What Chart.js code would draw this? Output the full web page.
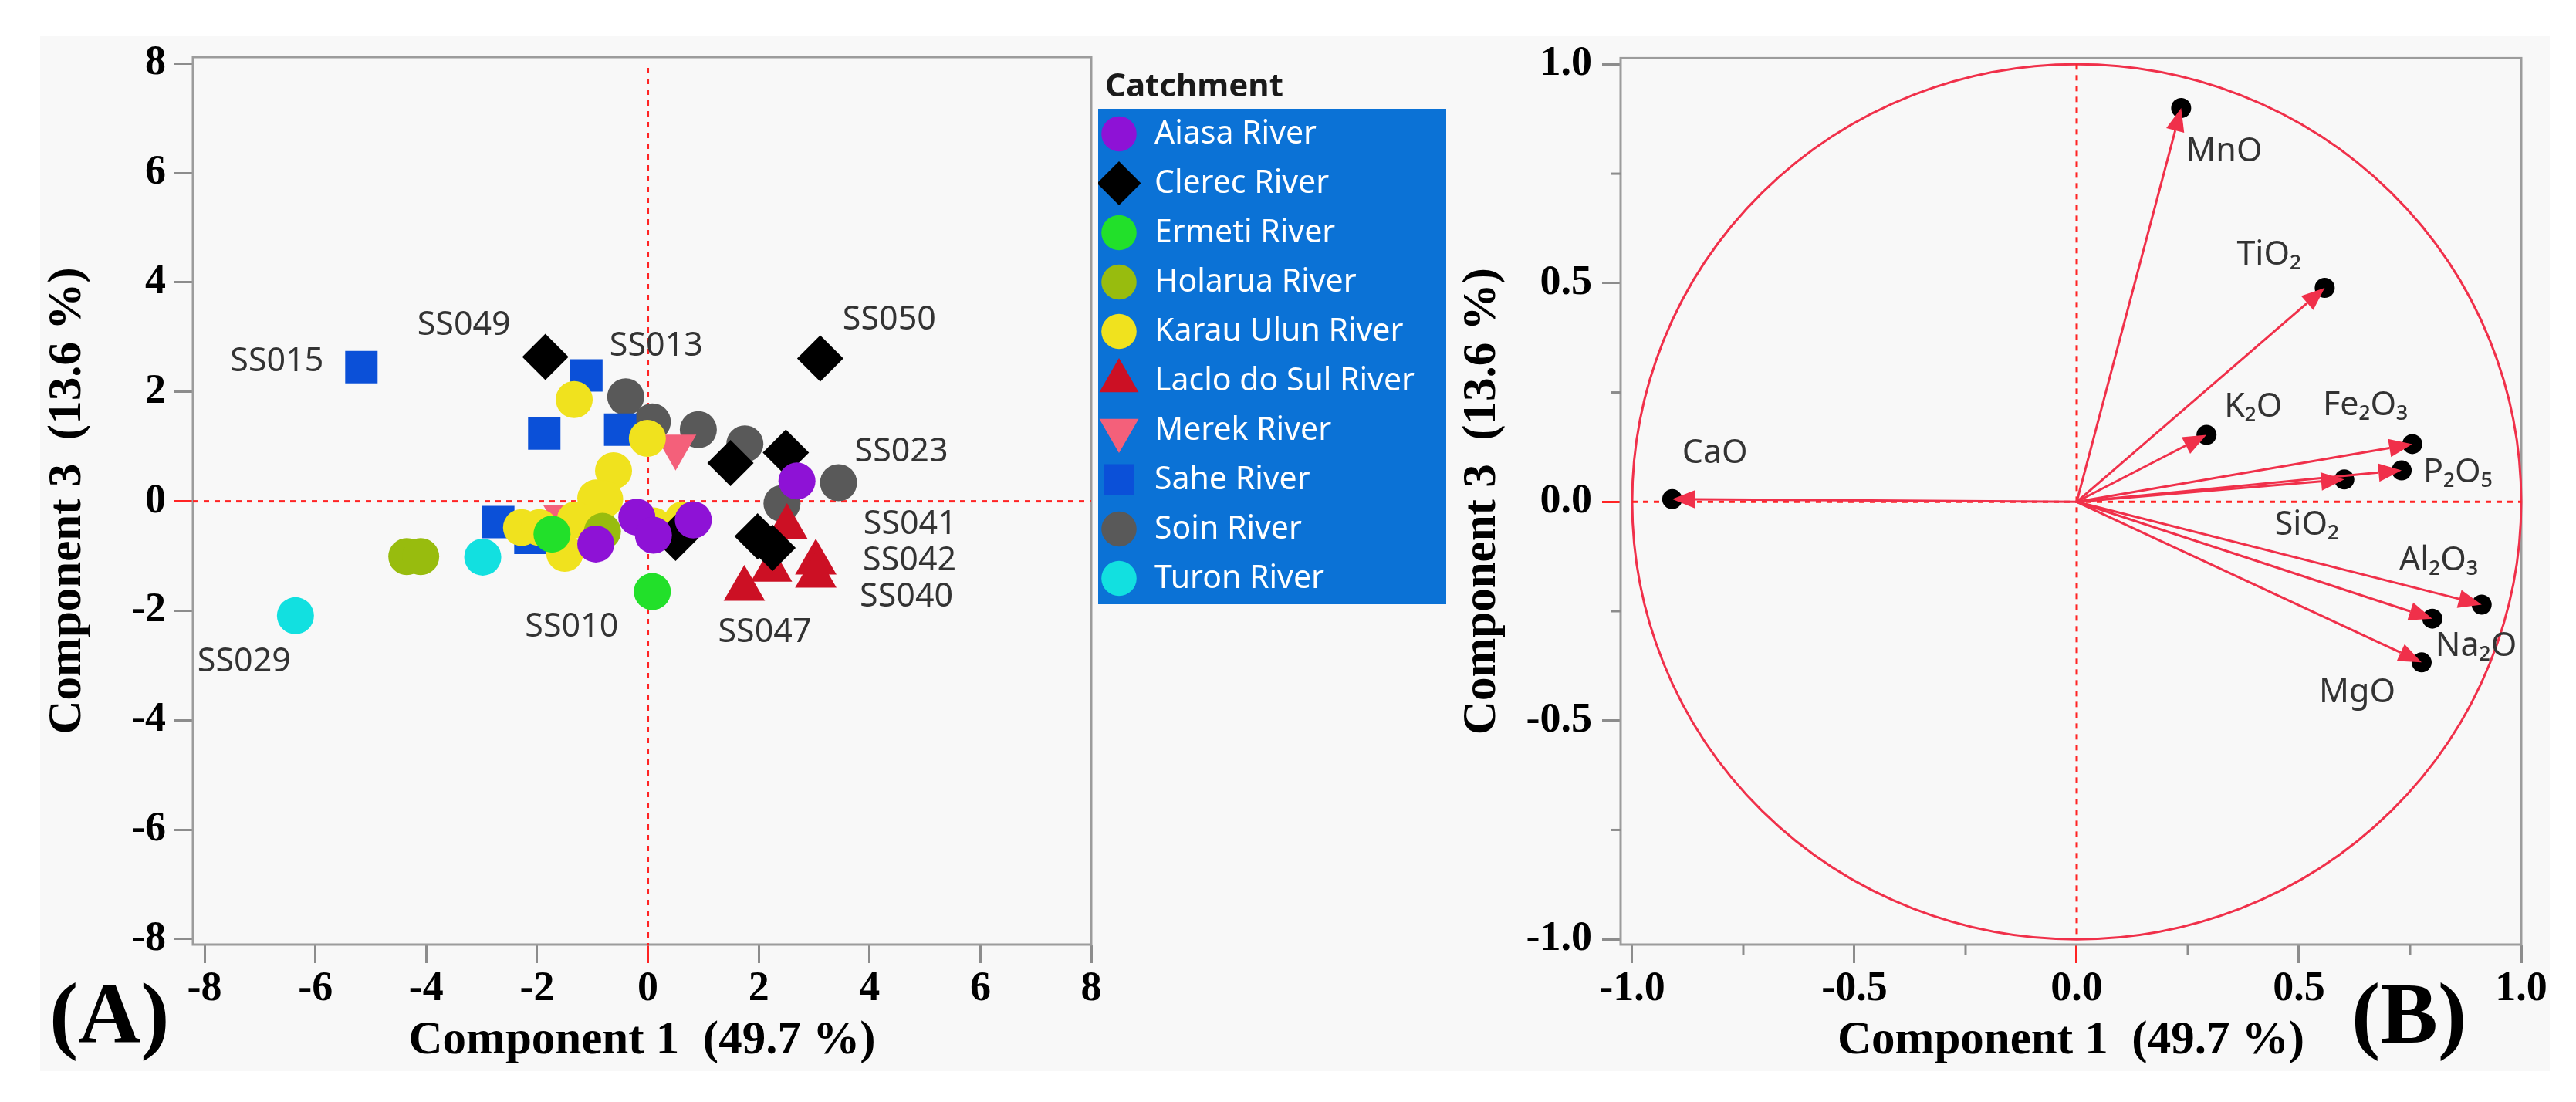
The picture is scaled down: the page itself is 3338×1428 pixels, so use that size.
<!DOCTYPE html>
<html><head><meta charset="utf-8">
<script src="https://cdn.jsdelivr.net/npm/chart.js@4.4.0/dist/chart.umd.min.js"></script>
<style>
html,body{margin:0;padding:0;background:#fff;width:3338px;height:1428px;overflow:hidden;position:relative;}
#panel{position:absolute;left:52px;top:47px;width:3252px;height:1341px;background:#f8f8f8;}
.wrap{position:absolute;}
#w1{left:52px;top:30px;width:1393px;height:1358px;}
#w2{left:1880px;top:30px;width:1424px;height:1358px;}
#legBox{position:absolute;left:1423px;top:141px;width:451px;height:642px;background:#0b72d6;}
#legCanvas{position:absolute;left:0;top:0;}
#legTitle{position:absolute;left:1432px;top:88px;font:bold 42px 'Noto Sans';line-height:42px;color:#1a1a1a;white-space:nowrap;}
.legItem{position:absolute;left:73px;height:64px;line-height:64px;font:41px 'Noto Sans';color:#fff;white-space:nowrap;}
.tag{position:absolute;top:1257px;font:bold 112px 'Liberation Serif';line-height:112px;color:#000;}
</style></head>
<body>
<div id="panel"></div>
<div class="wrap" id="w1"><canvas id="c1"></canvas></div>
<div id="legTitle">Catchment</div>
<div id="legBox"><canvas id="legCanvas" width="451" height="642"></canvas></div>
<div class="wrap" id="w2"><canvas id="c2"></canvas></div>
<div class="tag" style="left:64px">(A)</div>
<div class="tag" style="left:3047px">(B)</div>
<script>
// ---------------- DATA ----------------
const catchments = ['Aiasa River','Clerec River','Ermeti River','Holarua River','Karau Ulun River','Laclo do Sul River','Merek River','Sahe River','Soin River','Turon River'];
// [Component 1, Component 3] scores per catchment
const aiasa   = [[2.69,0.37],[0.82,-0.34],[-0.20,-0.29],[0.10,-0.62],[-0.94,-0.78]];
const clerec  = [[-1.85,2.64],[3.11,2.61],[1.49,0.70],[2.49,0.89],[1.98,-0.64],[2.25,-0.85],[0.50,-0.67]];
const ermeti  = [[0.08,-1.65],[-1.73,-0.60]];
const holarua = [[-4.35,-1.01],[-4.10,-1.01],[-0.82,-0.55]];
const karau   = [[-1.33,1.86],[-0.01,1.15],[-0.62,0.56],[-0.78,0.04],[-0.94,0.06],[-1.31,-0.34],[-2.28,-0.48],[-1.96,-0.48],[-1.50,-0.95],[0.10,-0.45],[0.63,-0.34]];
const laclo   = [[2.51,-0.47],[2.23,-1.25],[3.03,-1.12],[3.03,-1.36],[1.74,-1.60]];
const merek   = [[0.50,1.00],[-1.52,-0.28]];
const sahe    = [[-5.17,2.45],[-1.11,2.30],[-1.87,1.24],[-0.50,1.31],[-2.70,-0.38],[-2.12,-0.67]];
const soin    = [[-0.40,1.91],[0.08,1.45],[0.91,1.31],[1.75,1.05],[3.44,0.34],[2.42,-0.04]];
const turon   = [[-2.98,-1.02],[-6.36,-2.09]];
const seriesPoints = [aiasa, clerec, ermeti, holarua, karau, laclo, merek, sahe, soin, turon];

// labelled samples: id, catchment index, point index
const sampleIds    = ['SS015','SS049','SS013','SS050','SS023','SS041','SS042','SS040','SS047','SS010','SS029'];
const sampleSeries = [7,1,7,1,8,5,5,5,5,2,9];
const samplePoint  = [0,0,1,1,4,0,2,3,4,0,1];

// loadings (B)
const oxides = ['MnO','TiO₂','K₂O','Fe₂O₃','P₂O₅','SiO₂','Al₂O₃','Na₂O','MgO','CaO'];
const loadC1 = [0.235,0.558,0.292,0.755,0.731,0.602,0.911,0.800,0.776,-0.910];
const loadC3 = [0.900,0.489,0.153,0.132,0.072,0.051,-0.235,-0.267,-0.367,0.006];

// axes / ticks
const scoreTicks = [-8,-6,-4,-2,0,2,4,6,8];
const loadTicks = [-1,-0.5,0,0.5,1];
const loadMinorTicks = [-0.75,-0.25,0.25,0.75];
const xTitle = 'Component 1  (49.7 %)';
const yTitle = 'Component 3  (13.6 %)';
const unitCircleRadius = 1;

// ---------------- STYLE ----------------
const markerColors = ['#8e12d6','#000000','#22e02a','#98bc0e','#f0e21e','#cc1024','#f4607a','#0b50d8','#595959','#12e0e0'];
const markerShapes = ['circle','rectRot','circle','circle','circle','triangle','triangle','rect','circle','circle'];
const markerRadius = [24,30,24,24,24,31,31,29.7,24,24];
const markerRotation = [0,0,0,0,0,0,180,0,0,0];
const sampleLabelOffsets = [[-170,-7],[-166,-41],[30,-38],[29,-50],[21,-40],[99,-3],[61,-2],[57,28],[-34,57],[-165,46],[-127,60]];
const oxideLabelOffsets = [[6,57],[-114,-42],[23,-36],[-116,-50],[28,3],[-90,59],[-107,-57],[4,36],[-133,39],[13,-59]];
const RED = '#f0304a', REF = '#ff2424', FRAME = '#9c9c9c', TICK = '#8c8c8c';

Chart.defaults.animation = false;
Chart.defaults.font.family = "'Noto Sans'";

const tickFont = {family:"'Liberation Serif'", size:54, weight:'bold', lineHeight:1.2};
const titleFont = {family:"'Liberation Serif'", size:61, weight:'bold', lineHeight:1.2};
const zeroRed = c => (c.tick && c.tick.value === 0) ? REF : TICK;

function makeAxis(axis, min, max, ticks, fmt, yWidth, tickPad, titlePad){
  const o = {
    type:'linear', min, max,
    afterBuildTicks: s => { s.ticks = ticks.map(v => ({value:v})); },
    grid:{display:true, drawOnChartArea:false, drawTicks:true, tickLength:24, tickWidth:3, tickColor:zeroRed},
    border:{display:false},
    ticks:{font:tickFont, color:'#000', autoSkip:false, maxRotation:0, padding:tickPad, callback:fmt},
    title:{display:true, text: axis==='x'?xTitle:yTitle, font:titleFont, color:'#000', padding:titlePad}
  };
  if (axis === 'x') o.afterFit = s => { s.height = 164; };
  else o.afterFit = s => { s.width = yWidth; };
  return o;
}

const framePlugin = {
  id:'frameRefs',
  beforeDatasetsDraw(chart, args, opts){
    const {ctx, chartArea:a, scales:{x, y}} = chart;
    ctx.save();
    ctx.strokeStyle = FRAME; ctx.lineWidth = 3;
    ctx.strokeRect(a.left, a.top, a.right - a.left, a.bottom - a.top);
    if (opts.minor) {
      ctx.strokeStyle = TICK; ctx.lineWidth = 3;
      opts.minor.forEach(v => {
        const px = x.getPixelForValue(v), py = y.getPixelForValue(v);
        ctx.beginPath(); ctx.moveTo(px, a.bottom); ctx.lineTo(px, a.bottom + 13); ctx.stroke();
        ctx.beginPath(); ctx.moveTo(a.left, py); ctx.lineTo(a.left - 13, py); ctx.stroke();
      });
    }
    if (opts.circle) {
      const cx = x.getPixelForValue(0), cy = y.getPixelForValue(0);
      const rx = x.getPixelForValue(opts.circle) - cx, ry = cy - y.getPixelForValue(opts.circle);
      ctx.strokeStyle = RED; ctx.lineWidth = 3;
      ctx.beginPath(); ctx.ellipse(cx, cy, rx, ry, 0, 0, Math.PI * 2); ctx.stroke();
    }
    ctx.strokeStyle = REF; ctx.lineWidth = 3; ctx.setLineDash([7, 7]);
    const x0 = x.getPixelForValue(0), y0 = y.getPixelForValue(0);
    const span = opts.span;
    const top = span ? y.getPixelForValue(span) : a.top + 14;
    const bot = span ? y.getPixelForValue(-span) : a.bottom;
    const lft = span ? x.getPixelForValue(-span) : a.left;
    const rgt = span ? x.getPixelForValue(span) : a.right;
    ctx.beginPath(); ctx.moveTo(x0, top); ctx.lineTo(x0, bot); ctx.stroke();
    ctx.beginPath(); ctx.moveTo(lft, y0); ctx.lineTo(rgt, y0); ctx.stroke();
    ctx.restore();
  }
};

// ---------------- CHART A ----------------
const datasetsA = seriesPoints.map((pts, i) => ({
  label: catchments[i],
  data: pts.map(p => ({x:p[0], y:p[1]})),
  pointStyle: markerShapes[i], pointRadius: markerRadius[i], pointRotation: markerRotation[i],
  backgroundColor: markerColors[i], borderWidth: 0, pointBorderWidth: 0
}));

const sampleLabelPlugin = {
  id:'sampleLabels',
  afterDatasetsDraw(chart){
    const {ctx, scales:{x, y}} = chart;
    ctx.save();
    ctx.font = "43px 'Noto Sans'"; ctx.fillStyle = '#333'; ctx.textAlign = 'left'; ctx.textBaseline = 'middle';
    sampleIds.forEach((id, k) => {
      const p = seriesPoints[sampleSeries[k]][samplePoint[k]];
      const px = x.getPixelForValue(p[0]), py = y.getPixelForValue(p[1]);
      ctx.fillText(id, px + sampleLabelOffsets[k][0], py + sampleLabelOffsets[k][1]);
    });
    ctx.restore();
  }
};

new Chart(document.getElementById('c1'), {
  type:'scatter',
  data:{datasets:datasetsA},
  options:{
    responsive:true, maintainAspectRatio:false, devicePixelRatio:1,
    layout:{padding:{top:44, right:28, left:0, bottom:0}},
    plugins:{legend:{display:false}, tooltip:{enabled:false}, frameRefs:{}},
    events:[],
    scales:{
      x: makeAxis('x', -8.21, 8.0, scoreTicks, v => String(v), 0, 2, {top:0, bottom:2}),
      y: makeAxis('y', -8.10, 8.117, scoreTicks, v => String(v), 198, 11, {top:0, bottom:0})
    }
  },
  plugins:[framePlugin, sampleLabelPlugin]
});

// ---------------- LEGEND ----------------
(function(){
  const box = document.getElementById('legBox');
  const lc = document.getElementById('legCanvas').getContext('2d');
  catchments.forEach((name, i) => {
    const cy = 32.5 + 64 * i;
    lc.fillStyle = markerColors[i]; lc.strokeStyle = markerColors[i];
    const o = {pointStyle: markerShapes[i], radius: markerRadius[i] * 0.95, rotation: markerRotation[i], borderWidth: 0};
    if (Chart.helpers && Chart.helpers.drawPoint) Chart.helpers.drawPoint(lc, o, 27, cy);
    else { lc.beginPath(); lc.arc(27, cy, 22, 0, Math.PI * 2); lc.fill(); }
    const d = document.createElement('div');
    d.className = 'legItem'; d.style.top = (cy - 32) + 'px'; d.textContent = name;
    box.appendChild(d);
  });
})();

// ---------------- CHART B ----------------
const arrowPlugin = {
  id:'arrows',
  afterDatasetsDraw(chart){
    const {ctx, scales:{x, y}} = chart;
    const x0 = x.getPixelForValue(0), y0 = y.getPixelForValue(0);
    ctx.save();
    oxides.forEach((name, k) => {
      const x1 = x.getPixelForValue(loadC1[k]), y1 = y.getPixelForValue(loadC3[k]);
      const a = Math.atan2(y1 - y0, x1 - x0), L = 30, W = 12;
      const bx = x1 - L * Math.cos(a), by = y1 - L * Math.sin(a);
      ctx.strokeStyle = RED; ctx.lineWidth = 3;
      ctx.beginPath(); ctx.moveTo(x0, y0); ctx.lineTo(bx, by); ctx.stroke();
      ctx.fillStyle = RED;
      ctx.beginPath();
      ctx.moveTo(x1, y1);
      ctx.lineTo(bx + W * Math.sin(a), by - W * Math.cos(a));
      ctx.lineTo(bx - W * Math.sin(a), by + W * Math.cos(a));
      ctx.closePath(); ctx.fill();
    });
    ctx.font = "43px 'Noto Sans'"; ctx.fillStyle = '#333'; ctx.textAlign = 'left'; ctx.textBaseline = 'middle';
    oxides.forEach((name, k) => {
      const px = x.getPixelForValue(loadC1[k]), py = y.getPixelForValue(loadC3[k]);
      ctx.fillText(name, px + oxideLabelOffsets[k][0], py + oxideLabelOffsets[k][1]);
    });
    ctx.restore();
  }
};

new Chart(document.getElementById('c2'), {
  type:'scatter',
  data:{datasets:[{
    label:'Loadings',
    data: oxides.map((n, k) => ({x:loadC1[k], y:loadC3[k]})),
    pointStyle:'circle', pointRadius:13, backgroundColor:'#000', borderWidth:0
  }]},
  options:{
    responsive:true, maintainAspectRatio:false, devicePixelRatio:1,
    layout:{padding:{top:44, right:37, left:0, bottom:0}},
    plugins:{legend:{display:false}, tooltip:{enabled:false}, frameRefs:{span:1, circle:unitCircleRadius, minor:loadMinorTicks}},
    events:[],
    scales:{
      x: makeAxis('x', -1.026, 1.0, loadTicks, v => v.toFixed(1), 0, 2, {top:0, bottom:2}),
      y: makeAxis('y', -1.012, 1.014, loadTicks, v => v.toFixed(1), 220, 13, {top:5, bottom:0})
    }
  },
  plugins:[framePlugin, arrowPlugin]
});
</script>
</body></html>
